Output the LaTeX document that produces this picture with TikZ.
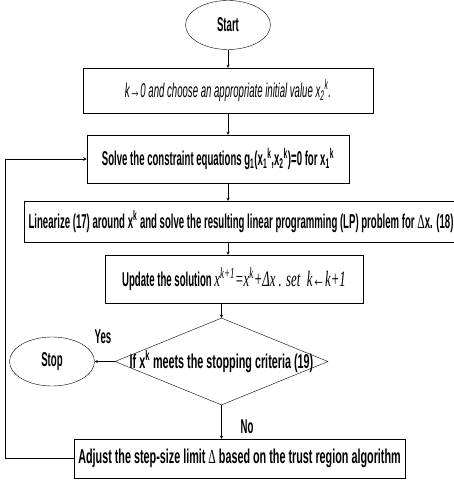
\documentclass[tikz,border=0pt]{standalone}
\usepackage{fontspec}
\setmainfont{Liberation Sans}[FakeStretch=0.48]
\newfontfamily\widesans{Liberation Sans}[FakeStretch=0.54]
\newfontfamily\tnr{Liberation Serif}[FakeStretch=0.58]
\usetikzlibrary{arrows}
\usetikzlibrary{shapes.geometric}

\begin{document}
\begin{tikzpicture}[x=1pt,y=-1pt,>=stealth,
        box/.style={draw, rectangle, inner sep=0pt, font=\bfseries\fontsize{20}{22}\selectfont},
        term/.style={draw, ellipse, minimum width=85pt, minimum height=49pt, inner sep=0pt, font=\bfseries\fontsize{20}{22}\selectfont},
        decision/.style={draw, diamond, minimum width=213pt, minimum height=87pt, inner sep=0pt},
        tag/.style={font=\bfseries\fontsize{20}{22}\selectfont}]
        \useasboundingbox (0,0) rectangle (453,481);

        % Start and stop
        \node[term] (start) at (228,25) {Start};
        \node[term] (stop) at (52,361.5) {Stop};

        % Process boxes
        \node[box, minimum width=290pt, minimum height=45pt, font=\itshape\fontsize{20}{22}\selectfont] (init) at (228,90.5)
            {k{\widesans\bfseries\upshape →}0 and choose an appropriate initial value x\textsubscript{2}\textsuperscript{k}.};
        \node[box, minimum width=262pt, minimum height=48pt] (solve) at (218,159)
            {Solve the constraint equations g\textsubscript{1}(x\textsubscript{1}\textsuperscript{k},x\textsubscript{2}\textsuperscript{k})=0 for x\textsubscript{1}\textsuperscript{k}};
        \node[box, minimum width=434pt, minimum height=41pt] (linear) at (241,221.5)
            {Linearize (17) around x\textsuperscript{k} and solve the resulting linear programming (LP) problem for {\tnr\mdseries Δ}x. (18)};
        \node[box, minimum width=258pt, minimum height=48pt] (update) at (234,279)
            {Update the solution {\tnr\mdseries\itshape\fontsize{22}{24}\selectfont x\textsuperscript{k+1}=x\textsuperscript{k}+Δx . set \ k←k+1}};

        % Decision
        \node[decision, label={[tag, font=\widesans\bfseries\fontsize{20}{22}\selectfont]center:If x\textsuperscript{k} meets the stopping criteria (19)}] (check) at (221.5,361.5) {};

        % Adjust box
        \node[box, minimum width=331pt, minimum height=39pt, font=\widesans\bfseries\fontsize{20}{22}\selectfont] (adjust) at (239.5,458.5)
            {Adjust the step-size limit {\tnr\mdseries Δ} based on the trust region algorithm};
        \draw[very thick] (adjust.south west) -- (adjust.south east);

        % Main flow
        \draw[->] (start) -- (init);
        \draw[->] (init) -- (init |- solve.north);
        \draw[->] (init |- solve.south) -- (init |- linear.north);
        \draw[->] (init |- linear.south) -- (init |- update.north);
        \draw[->] (update.south -| check.north) -- (check.north);
        \draw[->] (check.south) -- (check.south |- adjust.north);
        \draw[->] (check.west) -- (stop.east);

        % Loop back
        \coordinate (loop) at (5,0);
        \draw[->, semithick] (adjust.west) -- (adjust.west -| loop) |- (solve.west);

        % Labels
        \node[tag] (yes) at (103,337) {Yes};
        \node[tag] (no) at (247,427) {No};
\end{tikzpicture}
\end{document}
